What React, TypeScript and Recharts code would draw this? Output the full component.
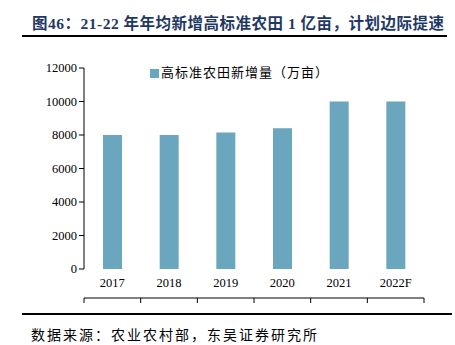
import React from "react";
import { BarChart, Bar, XAxis, YAxis, Legend } from "recharts";

const YEARS = ["2017", "2018", "2019", "2020", "2021", "2022F"];
const NEW_AREA = [8000, 8000, 8150, 8400, 10000, 10000];
const Y_TICKS = [0, 2000, 4000, 6000, 8000, 10000, 12000];
const EDGE_TICKS = [0, 1, 2, 3, 4, 5, 6];

const TITLE = "图46：21-22 年年均新增高标准农田 1 亿亩，计划边际提速";
const SERIES_NAME = "高标准农田新增量（万亩）";
const SOURCE = "数据来源：农业农村部，东吴证券研究所";

const BAR_COLOR = "#6aa6bd";
const SERIF = '"Liberation Serif", "Times New Roman", serif';
const CJK = '"Liberation Serif", "Noto Sans CJK SC", sans-serif';

const data = YEARS.map((year, i) => ({ year, idx: i + 0.5, value: NEW_AREA[i] }));

// legend sits at the top, so its measured height (~18px) is taken off the top margin
const LEGEND_H = 18;

export default function App() {
  return (
    <div
      style={{
        position: "absolute",
        left: 0,
        top: 0,
        width: 455,
        height: 345,
        background: "#fff",
        overflow: "hidden",
      }}
    >
      <div
        style={{
          position: "absolute",
          left: 32,
          top: 11,
          fontFamily: CJK,
          fontWeight: 700,
          fontSize: 15.5,
          letterSpacing: 0.5,
          color: "#1f3864",
          whiteSpace: "nowrap",
        }}
      >
        {TITLE}
      </div>
      <div
        style={{
          position: "absolute",
          left: 22,
          top: 35,
          width: 425,
          height: 2,
          background: "#000",
        }}
      />
      <div style={{ position: "absolute", left: 0, top: 0 }}>
        <BarChart
          width={455}
          height={345}
          data={data}
          margin={{ top: 67 - LEGEND_H, right: 31, bottom: 46, left: 24 }}
        >
          {/* category edges: x axis line with tick marks between the years */}
          <XAxis
            xAxisId="edge"
            type="number"
            dataKey="idx"
            domain={[0, 6]}
            ticks={EDGE_TICKS}
            tick={() => <g />}
            tickSize={5}
            height={1}
            stroke="#000"
            allowDataOverflow
          />
          <XAxis
            xAxisId="cat"
            dataKey="year"
            height={29}
            axisLine={false}
            tickLine={false}
            tick={{ fill: "#000", fontSize: 12.5, fontFamily: SERIF }}
            tickMargin={3}
          />
          <YAxis
            width={60}
            domain={[0, 12000]}
            ticks={Y_TICKS}
            tickSize={5}
            stroke="#000"
            tick={{ fill: "#000", fontSize: 12.5, fontFamily: SERIF }}
            interval={0}
          />
          <Legend
            verticalAlign="top"
            align="left"
            iconType="square"
            iconSize={9}
            wrapperStyle={{ top: 62, left: 150, width: "auto" }}
            formatter={(value) => (
              <span
                style={{
                  color: "#000",
                  fontSize: 13,
                  letterSpacing: 1,
                  fontFamily: CJK,
                  marginLeft: -2,
                }}
              >
                {value}
              </span>
            )}
          />
          <Bar
            xAxisId="cat"
            dataKey="value"
            name={SERIES_NAME}
            fill={BAR_COLOR}
            barSize={19}
            isAnimationActive={false}
          />
        </BarChart>
      </div>
      <div
        style={{
          position: "absolute",
          left: 22,
          top: 313,
          width: 430,
          height: 2,
          background: "#000",
        }}
      />
      <div
        style={{
          position: "absolute",
          left: 31,
          top: 324,
          fontFamily: CJK,
          fontSize: 14,
          letterSpacing: 2,
          color: "#000",
          whiteSpace: "nowrap",
        }}
      >
        {SOURCE}
      </div>
    </div>
  );
}
